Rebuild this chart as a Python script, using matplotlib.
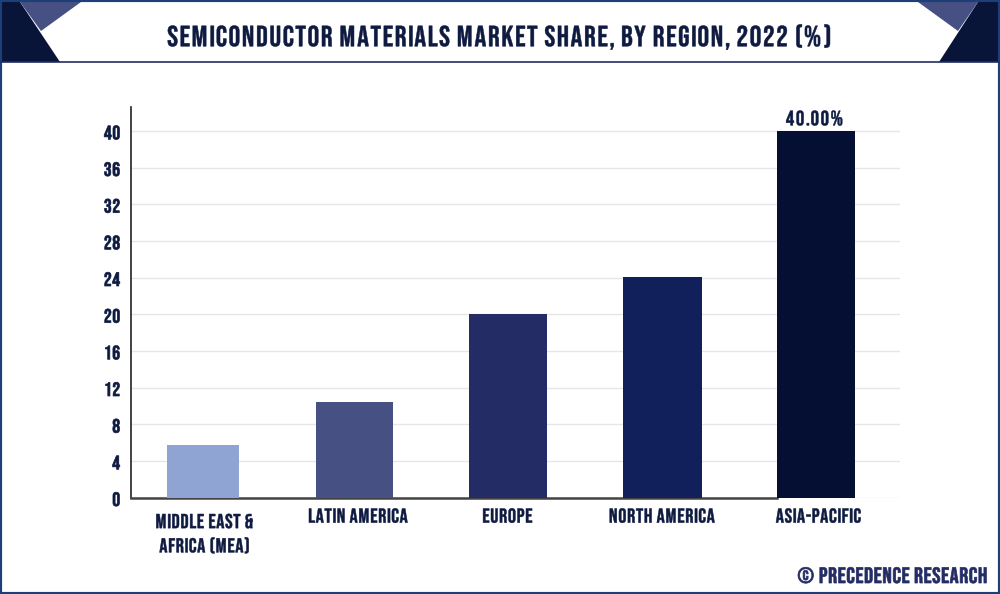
import matplotlib.pyplot as plt
from matplotlib.patches import Polygon, Rectangle
from matplotlib.patheffects import AbstractPathEffect
from matplotlib.path import Path
from matplotlib.transforms import ScaledTranslation
import numpy as np

W, H = 1000, 594
NAVY = '#0e1a40'

plt.rcParams['font.family'] = ['Bebas Neue', 'DejaVu Sans']


class Tracked(AbstractPathEffect):
    # letter spacing: moves each glyph outline, k is a fraction of the text width
    def __init__(self, k, anchor=0.5, stroke=0.35):
        super().__init__()
        self.k = k
        self.anchor = anchor
        self.stroke = stroke

    def draw_path(self, renderer, gc, tpath, affine, rgbFace=None):
        verts = tpath.vertices.copy()
        codes = tpath.codes
        real = codes != Path.CLOSEPOLY
        x0, x1 = verts[real, 0].min(), verts[real, 0].max()
        starts = list(np.flatnonzero(codes == Path.MOVETO)) + [len(verts)]
        left, right = None, None
        for a, b in zip(starts[:-1], starts[1:]):
            xs = verts[a:b][real[a:b], 0]
            if right is None or xs.min() >= right:
                left, right = xs.min(), xs.max()
            right = max(right, xs.max())
            verts[a:b, 0] += self.k * (left - x0) - self.anchor * self.k * (x1 - x0)
        gc0 = renderer.new_gc()
        gc0.copy_properties(gc)
        gc0.set_linewidth(self.stroke)
        gc0.set_foreground(rgbFace)
        renderer.draw_path(gc0, Path(verts, codes), affine, rgbFace)
        gc0.restore()


# market share by region
regions = ['MIDDLE EAST &\nAFRICA (MEA)', 'LATIN AMERICA', 'EUROPE', 'NORTH AMERICA', 'ASIA-PACIFIC']
share = [5.7, 10.4, 20.0, 24.1, 40.0]
widths = [0.47, 0.50, 0.51, 0.51, 0.51]
colors = ['#90a4d4', '#465083', '#232c65', '#11205a', '#050f33']
centers = [0, 0.99, 1.99, 3.0, 4.0]
label_pos = [0.013, 1.016, 1.99, 3.0, 4.02]

fig = plt.figure(figsize=(W / 100, H / 100), dpi=100, facecolor='white')


def px(points):
    # picture pixels to figure fractions
    return [(x / W, 1 - y / H) for x, y in points]


def nudge_down(text, pixels):
    text.set_transform(text.get_transform() + ScaledTranslation(0, -pixels / 100, fig.dpi_scale_trans))


# header decoration
fig.patches.append(Polygon(px([(2, 2), (20, 2), (60, 62), (2, 62)]), transform=fig.transFigure, fc='#081438', ec='none'))
fig.patches.append(Polygon(px([(20, 2), (81, 2), (41, 31)]), transform=fig.transFigure, fc='#465083', ec='none'))
fig.patches.append(Polygon(px([(978, 2), (998, 2), (998, 62), (939, 62)]), transform=fig.transFigure, fc='#081438', ec='none'))
fig.patches.append(Polygon(px([(918, 2), (978, 2), (958, 31)]), transform=fig.transFigure, fc='#465083', ec='none'))
fig.add_artist(plt.Line2D([0, 1], [1 - 62 / H] * 2, color='#232c65', lw=1.2))
fig.patches.append(Rectangle((0, 0), 1, 1, transform=fig.transFigure, fc='none', ec='#1d3f78', lw=3))

title = fig.text(0.5, 1 - 36.5 / H, 'SEMICONDUCTOR MATERIALS MARKET SHARE, BY REGION, 2022 (%)',
                 ha='center', va='center', fontsize=21, color=NAVY)
title.set_path_effects([Tracked(0.137)])

ax = fig.add_axes([131 / W, 1 - 497.5 / H, 769 / W, 390.5 / H])
ax.bar(centers, share, width=widths, color=colors, zorder=3)
ax.set_xlim(-0.47, 4.55)
ax.set_ylim(0, 42.6)
ax.set_yticks(np.arange(0, 41, 4))
ax.set_xticks(label_pos)
ax.set_xticklabels(regions, color=NAVY, fontsize=14.5, linespacing=1.62)
ax.tick_params(axis='y', length=0, pad=7.5, labelsize=14, labelcolor=NAVY)
ax.tick_params(axis='x', length=0, pad=8)
for t in ax.get_xticklabels():
    t.set_path_effects([Tracked(0.09)])
nudge_down(ax.get_xticklabels()[0], 5.5)
for t in ax.get_yticklabels():
    t.set_path_effects([Tracked(0.08, anchor=1, stroke=0.5)])
    nudge_down(t, 1.5)
ax.grid(axis='y', color='#e6e6e6', lw=1, zorder=0)
ax.set_axisbelow(True)
for s in ['top', 'right']:
    ax.spines[s].set_visible(False)
ax.spines['left'].set_color('#222222')
ax.spines['left'].set_linewidth(1.2)
ax.spines['bottom'].set_color('#444444')
ax.spines['bottom'].set_linewidth(1.8)
ax.spines['bottom'].set_bounds(-0.47, 3.75)

label = ax.text(centers[4], share[4] + 0.6, '40.00%', ha='center', va='baseline', fontsize=15, color=NAVY)
label.set_path_effects([Tracked(0.2)])

source = fig.text(987 / W, 1 - 575 / H, '© PRECEDENCE RESEARCH', ha='right', va='center', fontsize=16, color='#232c65')
source.set_path_effects([Tracked(0.07, anchor=1, stroke=0.5)])

fig.savefig('out.png', dpi=100)
